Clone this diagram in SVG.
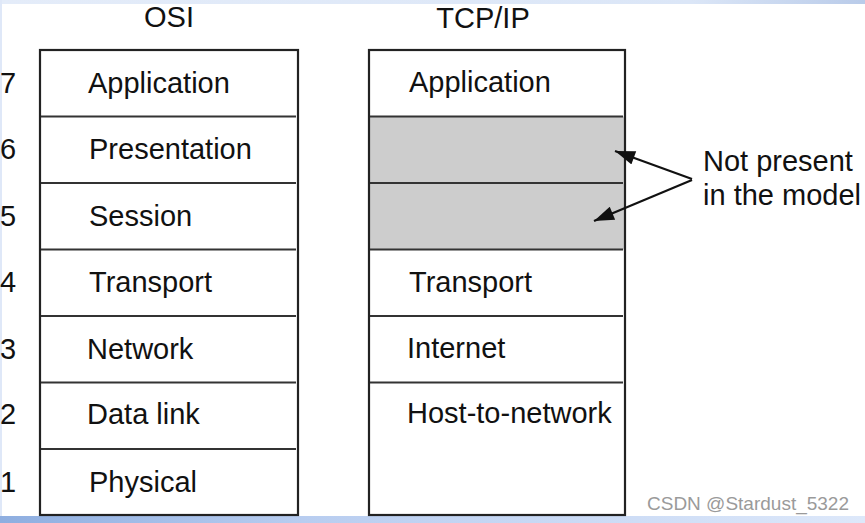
<svg xmlns="http://www.w3.org/2000/svg" width="865" height="523" viewBox="0 0 865 523">
<defs>
<linearGradient id="bot" x1="0" y1="0" x2="1" y2="0">
<stop offset="0" stop-color="#8eaee0"/>
<stop offset="0.35" stop-color="#b8cdf0"/>
<stop offset="1" stop-color="#dde8fa"/>
</linearGradient>
<linearGradient id="top" x1="0" y1="0" x2="1" y2="0">
<stop offset="0" stop-color="#e4ecf9"/>
<stop offset="0.8" stop-color="#dbe6f7"/>
<stop offset="1" stop-color="#b9cbe9"/>
</linearGradient>
<marker id="ah2" viewBox="0 0 20 14" refX="20" refY="7" markerWidth="22" markerHeight="14" markerUnits="userSpaceOnUse" orient="auto">
<path d="M0,0 L20,7 L0,14 z" fill="#111"/>
</marker>
</defs>
<style>
.t{font-family:"Liberation Sans",Arial,sans-serif;font-size:29px;fill:#111}
.box{fill:none;stroke:#222;stroke-width:2.2}
.ln{stroke:#333;stroke-width:2}
.wm{font-family:"Liberation Sans",Arial,sans-serif;font-size:19px;fill:#9a9a9a}
</style>
<rect width="865" height="523" fill="#fff"/>
<rect x="0" y="0" width="865" height="4" fill="url(#top)"/>
<rect x="0" y="0" width="2" height="523" fill="#dfe8f8"/>
<rect x="0" y="516" width="865" height="7" fill="url(#bot)"/>

<text class="t" x="169" y="27" text-anchor="middle">OSI</text>
<text class="t" x="483" y="28" text-anchor="middle">TCP/IP</text>

<g id="osi">
<rect class="box" x="40" y="50" width="258" height="465"/>
<line class="ln" x1="41" y1="116.5" x2="296" y2="116.5"/>
<line class="ln" x1="41" y1="183" x2="296" y2="183"/>
<line class="ln" x1="41" y1="249.5" x2="296" y2="249.5"/>
<line class="ln" x1="41" y1="316" x2="296" y2="316"/>
<line class="ln" x1="41" y1="382.5" x2="296" y2="382.5"/>
<line class="ln" x1="41" y1="449" x2="296" y2="449"/>
<text class="t" x="88" y="93">Application</text>
<text class="t" x="89" y="159">Presentation</text>
<text class="t" x="89" y="226">Session</text>
<text class="t" x="89" y="292">Transport</text>
<text class="t" x="87" y="359">Network</text>
<text class="t" x="87" y="424">Data link</text>
<text class="t" x="89" y="492">Physical</text>
</g>

<g id="numbers">
<text class="t" x="0" y="93">7</text>
<text class="t" x="0" y="159">6</text>
<text class="t" x="0" y="226">5</text>
<text class="t" x="0" y="292">4</text>
<text class="t" x="0" y="359">3</text>
<text class="t" x="0" y="424">2</text>
<text class="t" x="0" y="492">1</text>
</g>

<g id="tcpip">
<rect x="370" y="116.5" width="254" height="133" fill="#cdcdcd"/>
<rect class="box" x="369" y="50" width="256" height="465"/>
<line class="ln" x1="370" y1="116.5" x2="623" y2="116.5"/>
<line class="ln" x1="370" y1="183" x2="623" y2="183"/>
<line class="ln" x1="370" y1="249.5" x2="623" y2="249.5"/>
<line class="ln" x1="370" y1="316" x2="623" y2="316"/>
<line class="ln" x1="370" y1="382.5" x2="623" y2="382.5"/>
<text class="t" x="409" y="92">Application</text>
<text class="t" x="409" y="292">Transport</text>
<text class="t" x="407" y="358">Internet</text>
<text class="t" x="407" y="423">Host-to-network</text>
</g>

<g id="note">
<text class="t" x="703" y="171">Not present</text>
<text class="t" x="703" y="205">in the model</text>
</g>

<g id="connectors">
<line x1="692" y1="179" x2="615" y2="151" stroke="#111" stroke-width="2.2" marker-end="url(#ah2)"/>
<line x1="692" y1="180" x2="594" y2="221" stroke="#111" stroke-width="2.2" marker-end="url(#ah2)"/>
</g>

<text class="wm" x="647" y="510">CSDN @Stardust_5322</text>
</svg>
